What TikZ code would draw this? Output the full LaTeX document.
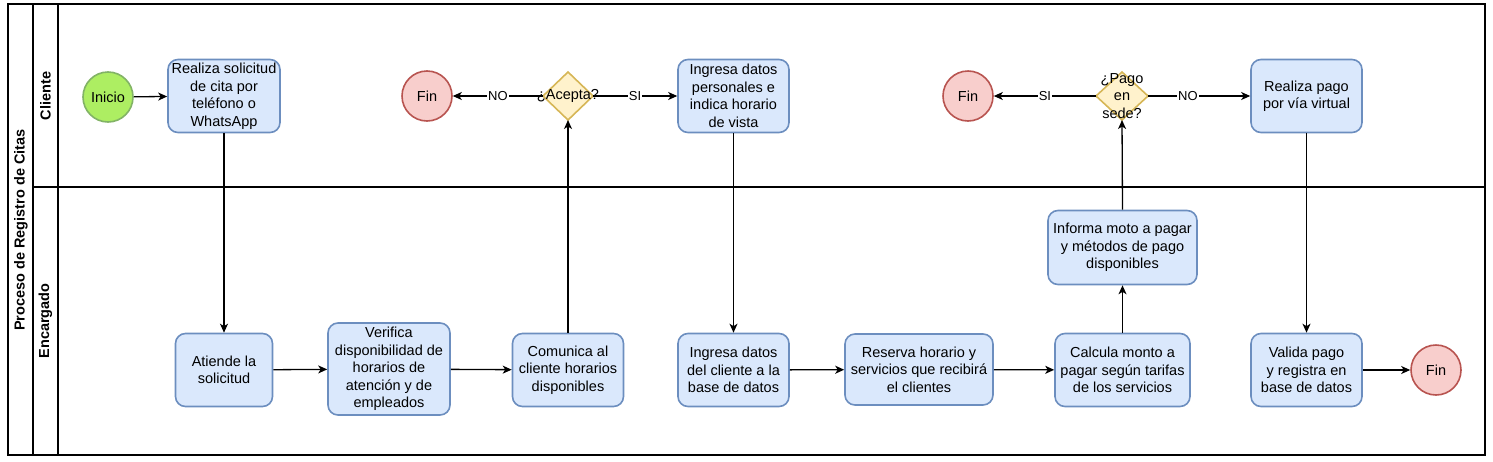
\documentclass[tikz,border=0pt]{standalone}
\usepackage{fontspec}
\setmainfont{Liberation Sans}
\usetikzlibrary{arrows.meta}
\definecolor{boxfill}{HTML}{DAE8FC}
\definecolor{boxline}{HTML}{6C8EBF}
\definecolor{gofill}{HTML}{ADEE62}
\definecolor{goline}{HTML}{82B366}
\definecolor{endfill}{HTML}{F8CECC}
\definecolor{endline}{HTML}{B85450}
\definecolor{decfill}{HTML}{FFF2CC}
\definecolor{decline}{HTML}{D6B656}
\tikzset{
  txt/.style={font=\fontsize{14.5}{17.5}\selectfont, align=center},
  task/.style={txt, draw=boxline, fill=boxfill, line width=1.6pt, rounded corners=10pt, inner sep=0pt},
  startev/.style={txt, circle, draw=goline, fill=gofill, line width=1.6pt, minimum size=50pt, inner sep=0pt},
  endev/.style={txt, circle, draw=endline, fill=endfill, line width=1.6pt, minimum size=50pt, inner sep=0pt},
  gate/.style={draw=decline, fill=decfill, line width=1.6pt},
  flow/.style={line width=1.3pt, -{Stealth[length=9pt,width=8pt,inset=2.5pt]}},
  lbl/.style={font=\fontsize{13}{14}\selectfont, fill=white, inner sep=1pt},
  frame/.style={line width=1.4pt, draw=black},
  title/.style={font=\bfseries\fontsize{14.5}{17}\selectfont, rotate=90}
}
\begin{document}
\begin{tikzpicture}[x=1pt,y=-1pt]
\useasboundingbox (0,0) rectangle (1493,461);
% pool and lanes
\draw[frame] (8,4) rectangle (1485,455);
\draw[frame] (33,4) -- (33,455);
\draw[frame] (58,4) -- (58,455);
\draw[frame] (33,187) -- (1485,187);
\node[title] (pool) at (21,230) {Proceso de Registro de Citas};
\node[title] (lane1) at (45.5,96) {Cliente};
\node[title] (lane2) at (45.5,321) {Encargado};
% Cliente lane
\node[startev] (inicio) at (108,97) {Inicio};
\node[task, minimum width=112pt, minimum height=73pt] (sol) at (224,96) {Realiza solicitud\\de cita por\\teléfono o\\WhatsApp};
\node[endev] (fin1) at (427,96) {Fin};
\path[gate] (568,72) -- (593,96) -- (568,120) -- (543,96) -- cycle;
\coordinate (acS) at (568,120);
\coordinate (acW) at (543,96);
\coordinate (acE) at (593,96);
\node[task, minimum width=111pt, minimum height=73pt] (datper) at (733.5,96) {Ingresa datos\\personales e\\indica horario\\de vista};
\node[endev] (fin2) at (968,96) {Fin};
\path[gate] (1122,72) -- (1148,96) -- (1122,120) -- (1096,96) -- cycle;
\coordinate (pgS) at (1122,120);
\coordinate (pgW) at (1096,96);
\coordinate (pgE) at (1148,96);
\node[task, minimum width=111pt, minimum height=73pt] (virt) at (1306.5,96) {Realiza pago\\por vía virtual};
% Encargado lane
\node[task, minimum width=97pt, minimum height=73pt] (atiende) at (224,370) {Atiende la\\solicitud};
\node[task, minimum width=122pt, minimum height=92pt] (verif) at (389,369) {Verifica\\disponibilidad de\\horarios de\\atención y de\\empleados};
\node[task, minimum width=111pt, minimum height=73pt] (comun) at (568,370) {Comunica al\\cliente horarios\\disponibles};
\node[task, minimum width=111pt, minimum height=73pt] (datcli) at (733.5,370) {Ingresa datos\\del cliente a la\\base de datos};
\node[task, minimum width=148pt, minimum height=71pt] (reserva) at (919,369.5) {Reserva horario y\\servicios que recibirá\\el clientes};
\node[task, minimum width=135pt, minimum height=73pt] (calc) at (1122.5,370) {Calcula monto a\\pagar según tarifas\\de los servicios};
\node[task, minimum width=149pt, minimum height=74pt] (informa) at (1122.5,247.5) {Informa moto a pagar\\y métodos de pago\\disponibles};
\node[task, minimum width=111pt, minimum height=73pt] (valida) at (1306.5,370) {Valida pago\\y registra en\\base de datos};
\node[endev] (fin3) at (1436,370) {Fin};
% flows
\draw[flow] (inicio) -- (sol);
\draw[flow] (sol) -- (atiende);
\draw[flow] (atiende) -- (verif);
\draw[flow] (verif) -- (comun);
\draw[flow] (comun) -- (acS);
\draw[flow] (acW) -- node[lbl] {NO} (fin1);
\draw[flow] (acE) -- node[lbl] {SI} (datper);
\draw[flow] (datper) -- (datcli);
\draw[flow] (datcli) -- (reserva);
\draw[flow] (reserva) -- (calc);
\draw[flow] (calc) -- (informa);
\draw[flow] (informa.north) -- (pgS);
\draw[flow] (pgW) -- node[lbl] {SI} (fin2);
\draw[flow] (pgE) -- node[lbl, pos=0.39] {NO} (virt);
\draw[flow] (virt) -- (valida);
\draw[flow] (valida) -- (fin3);
% gateway texts on top
\node[txt, inner sep=0pt] (acepta) at (568,96) {¿Acepta?};
\node[txt, inner sep=0pt] (pago) at (1122,96) {¿Pago\\en\\sede?};
\end{tikzpicture}
\end{document}
